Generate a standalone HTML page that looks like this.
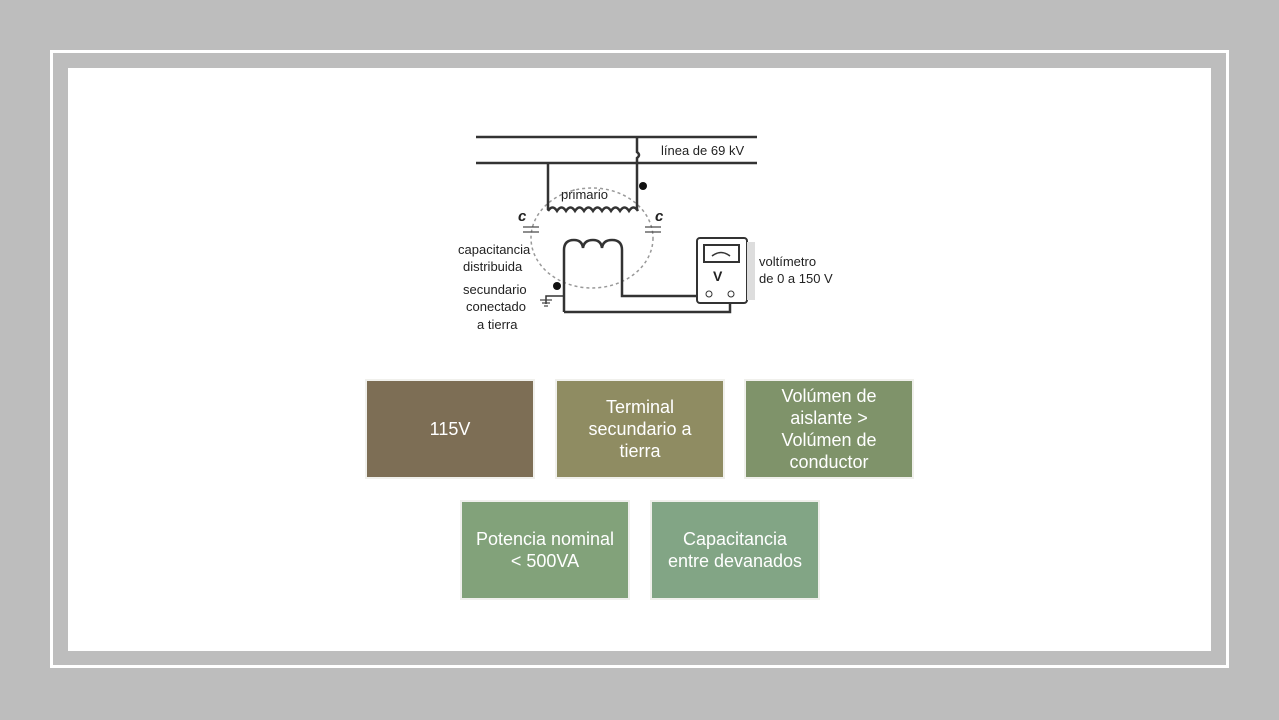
<!DOCTYPE html>
<html><head><style>
body{margin:0;width:1279px;height:720px;background:#bdbdbd;position:relative;overflow:hidden;font-family:"Liberation Sans",sans-serif}
.o{position:absolute;left:50px;top:50px;width:1173px;height:612px;border:3px solid #fff}
.i{position:absolute;left:68px;top:68px;width:1143px;height:583px;background:#fff}
.b{position:absolute;width:166px;height:96px;color:#fff;font-size:18px;line-height:22px;display:flex;align-items:center;justify-content:center;text-align:center;box-shadow:0 0 0 2px #f0f0ec;white-space:nowrap}
</style></head><body>
<div class="o"></div><div class="i"></div>
<svg style="position:absolute;left:0;top:0" width="1279" height="720" font-family="Liberation Sans" font-size="13" fill="#222">
<g stroke="#999" stroke-width="1.5" fill="none" stroke-dasharray="3 3"><ellipse cx="592" cy="238" rx="61" ry="50"/></g>
<g stroke="#333" stroke-width="2.5" fill="none">
<line x1="476" y1="137" x2="757" y2="137"/><line x1="476" y1="163" x2="757" y2="163"/>
<path d="M548 163 V210"/>
<path d="M637 137 V152 q4 3 0 6 V210"/>
<path d="M548 211 q4.5 -7 9 0 q4.5 -7 9 0 q4.5 -7 9 0 q4.5 -7 9 0 q4.5 -7 9 0 q4.5 -7 9 0 q4.5 -7 9 0 q4.5 -7 9 0 q4.5 -7 9 0 q4.5 -7 9 0"/>
<path d="M564 312 V250 q0 -10 10 -10 q8 0 9 8 q1 -8 10 -8 q8 0 9 8 q1 -8 10 -8 q10 0 10 10 V296 H697"/>
<path d="M564 312 H730 V302"/>
<path d="M564 296 H546 V304" stroke-width="1.5"/>
</g>
<g stroke="#444" stroke-width="1.2"><line x1="540" y1="300" x2="552" y2="300"/><line x1="542" y1="303" x2="550" y2="303"/><line x1="544" y1="306" x2="548" y2="306"/>
<line x1="523" y1="227" x2="539" y2="227"/><line x1="523" y1="232" x2="539" y2="232"/><line x1="645" y1="227" x2="661" y2="227"/><line x1="645" y1="232" x2="661" y2="232"/></g>
<circle cx="643" cy="186" r="4" fill="#111"/><circle cx="557" cy="286" r="4" fill="#111"/>
<rect x="697" y="238" width="50" height="65" rx="3" fill="#fff" stroke="#333" stroke-width="2"/>
<rect x="747" y="242" width="8" height="58" fill="#ddd"/>
<rect x="704" y="245" width="35" height="17" fill="#fff" stroke="#333" stroke-width="2"/>
<path d="M712 256 q9 -7 18 0" stroke="#333" fill="none" stroke-width="1.5"/>
<circle cx="709" cy="294" r="3" fill="none" stroke="#333"/><circle cx="731" cy="294" r="3" fill="none" stroke="#333"/>
<text x="713" y="281" font-weight="bold" font-size="14">V</text>
<text x="661" y="155">línea de 69 kV</text>
<text x="561" y="199">primario</text>
<text x="518" y="221" font-style="italic" font-weight="bold" font-size="15">c</text>
<text x="655" y="221" font-style="italic" font-weight="bold" font-size="15">c</text>
<text x="458" y="254">capacitancia</text><text x="463" y="271">distribuida</text>
<text x="463" y="294">secundario</text><text x="466" y="311">conectado</text><text x="477" y="329">a tierra</text>
<text x="759" y="266">voltímetro</text><text x="759" y="283">de 0 a 150 V</text>
</svg>
<div class="b" style="left:367px;top:381px;background:#7d6e55">115V</div>
<div class="b" style="left:557px;top:381px;background:#8f8c62">Terminal<br>secundario a<br>tierra</div>
<div class="b" style="left:746px;top:381px;background:#7f936a">Volúmen de<br>aislante &gt;<br>Volúmen de<br>conductor</div>
<div class="b" style="left:462px;top:502px;background:#82a27a">Potencia nominal<br>&lt; 500VA</div>
<div class="b" style="left:652px;top:502px;background:#82a585">Capacitancia<br>entre devanados</div>
</body></html>
